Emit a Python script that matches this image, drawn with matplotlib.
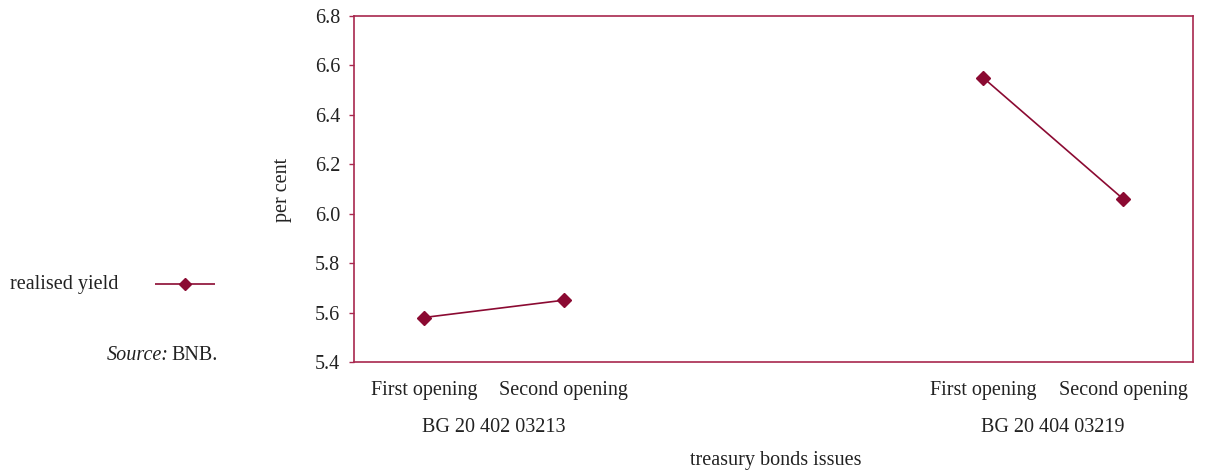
import matplotlib
matplotlib.use("Agg")
import matplotlib.pyplot as plt

# data
slots = [0, 1, 4, 5]  # positions in a 6-slot category axis (slots 2 and 3 empty)
cat_labels = ["First opening", "Second opening", "First opening", "Second opening"]
issues = ["BG 20 402 03213", "BG 20 404 03219"]
yields_a = [5.58, 5.65]
yields_b = [6.55, 6.06]

plt.rcParams['font.family'] = ['Liberation Serif', 'DejaVu Serif']
red = '#8B0A32'
axcol = '#A8284E'
txt = '#222222'
fs = 14.5

fig = plt.figure(figsize=(12.11, 4.74), dpi=100)
ax = fig.add_axes([354/1211, 1 - 362/474, 839/1211, 346/474])

ax.plot(slots[:2], yields_a, color=red, lw=1.2, marker='D', ms=7)
ax.plot(slots[2:], yields_b, color=red, lw=1.2, marker='D', ms=7)

ax.set_xlim(-0.5, 5.5)
ax.set_ylim(5.4, 6.8)
ax.set_yticks([5.4, 5.6, 5.8, 6.0, 6.2, 6.4, 6.6, 6.8])
ax.set_yticklabels(["%.1f" % v for v in ax.get_yticks()], fontsize=fs, color=txt)
ax.set_xticks(slots)
ax.set_xticklabels(cat_labels, fontsize=fs, color=txt)
ax.tick_params(axis='x', length=0, pad=13.5)
ax.tick_params(axis='y', length=3.5, width=1, color=axcol, pad=6.5)
for s in ax.spines.values():
    s.set_color(axcol)
    s.set_linewidth(1.2)

# group labels under the category labels
trans = ax.get_xaxis_transform()
ax.text(0.5, -0.19, issues[0], transform=trans, ha='center', va='center', fontsize=fs, color=txt)
ax.text(4.5, -0.19, issues[1], transform=trans, ha='center', va='center', fontsize=fs, color=txt)

fig.text(776/1211, 1 - 461/474, "treasury bonds issues", ha='center', va='center', fontsize=fs, color=txt)
fig.text(283/1211, 1 - 190/474, "per cent", ha='center', va='center', rotation=90, fontsize=fs, color=txt)

# legend drawn at the left
fig.text(10/1211, 1 - 284/474, "realised yield", ha='left', va='center', fontsize=fs, color=txt)
leg = fig.add_axes([155/1211, 1 - 294/474, 60/1211, 20/474])
leg.plot([0, 0.5, 1], [0.5, 0.5, 0.5], color=red, lw=1.2)
leg.plot([0.5], [0.5], color=red, marker='D', ms=6)
leg.set_xlim(0, 1)
leg.set_ylim(0, 1)
leg.axis('off')

fig.text(218/1211, 1 - 355/474, "BNB.", ha='right', va='center', fontsize=fs, color=txt)
fig.text(169/1211, 1 - 355/474, "Source:", ha='right', va='center', fontsize=fs, style='italic', color=txt)

fig.savefig("out.png", dpi=100)
